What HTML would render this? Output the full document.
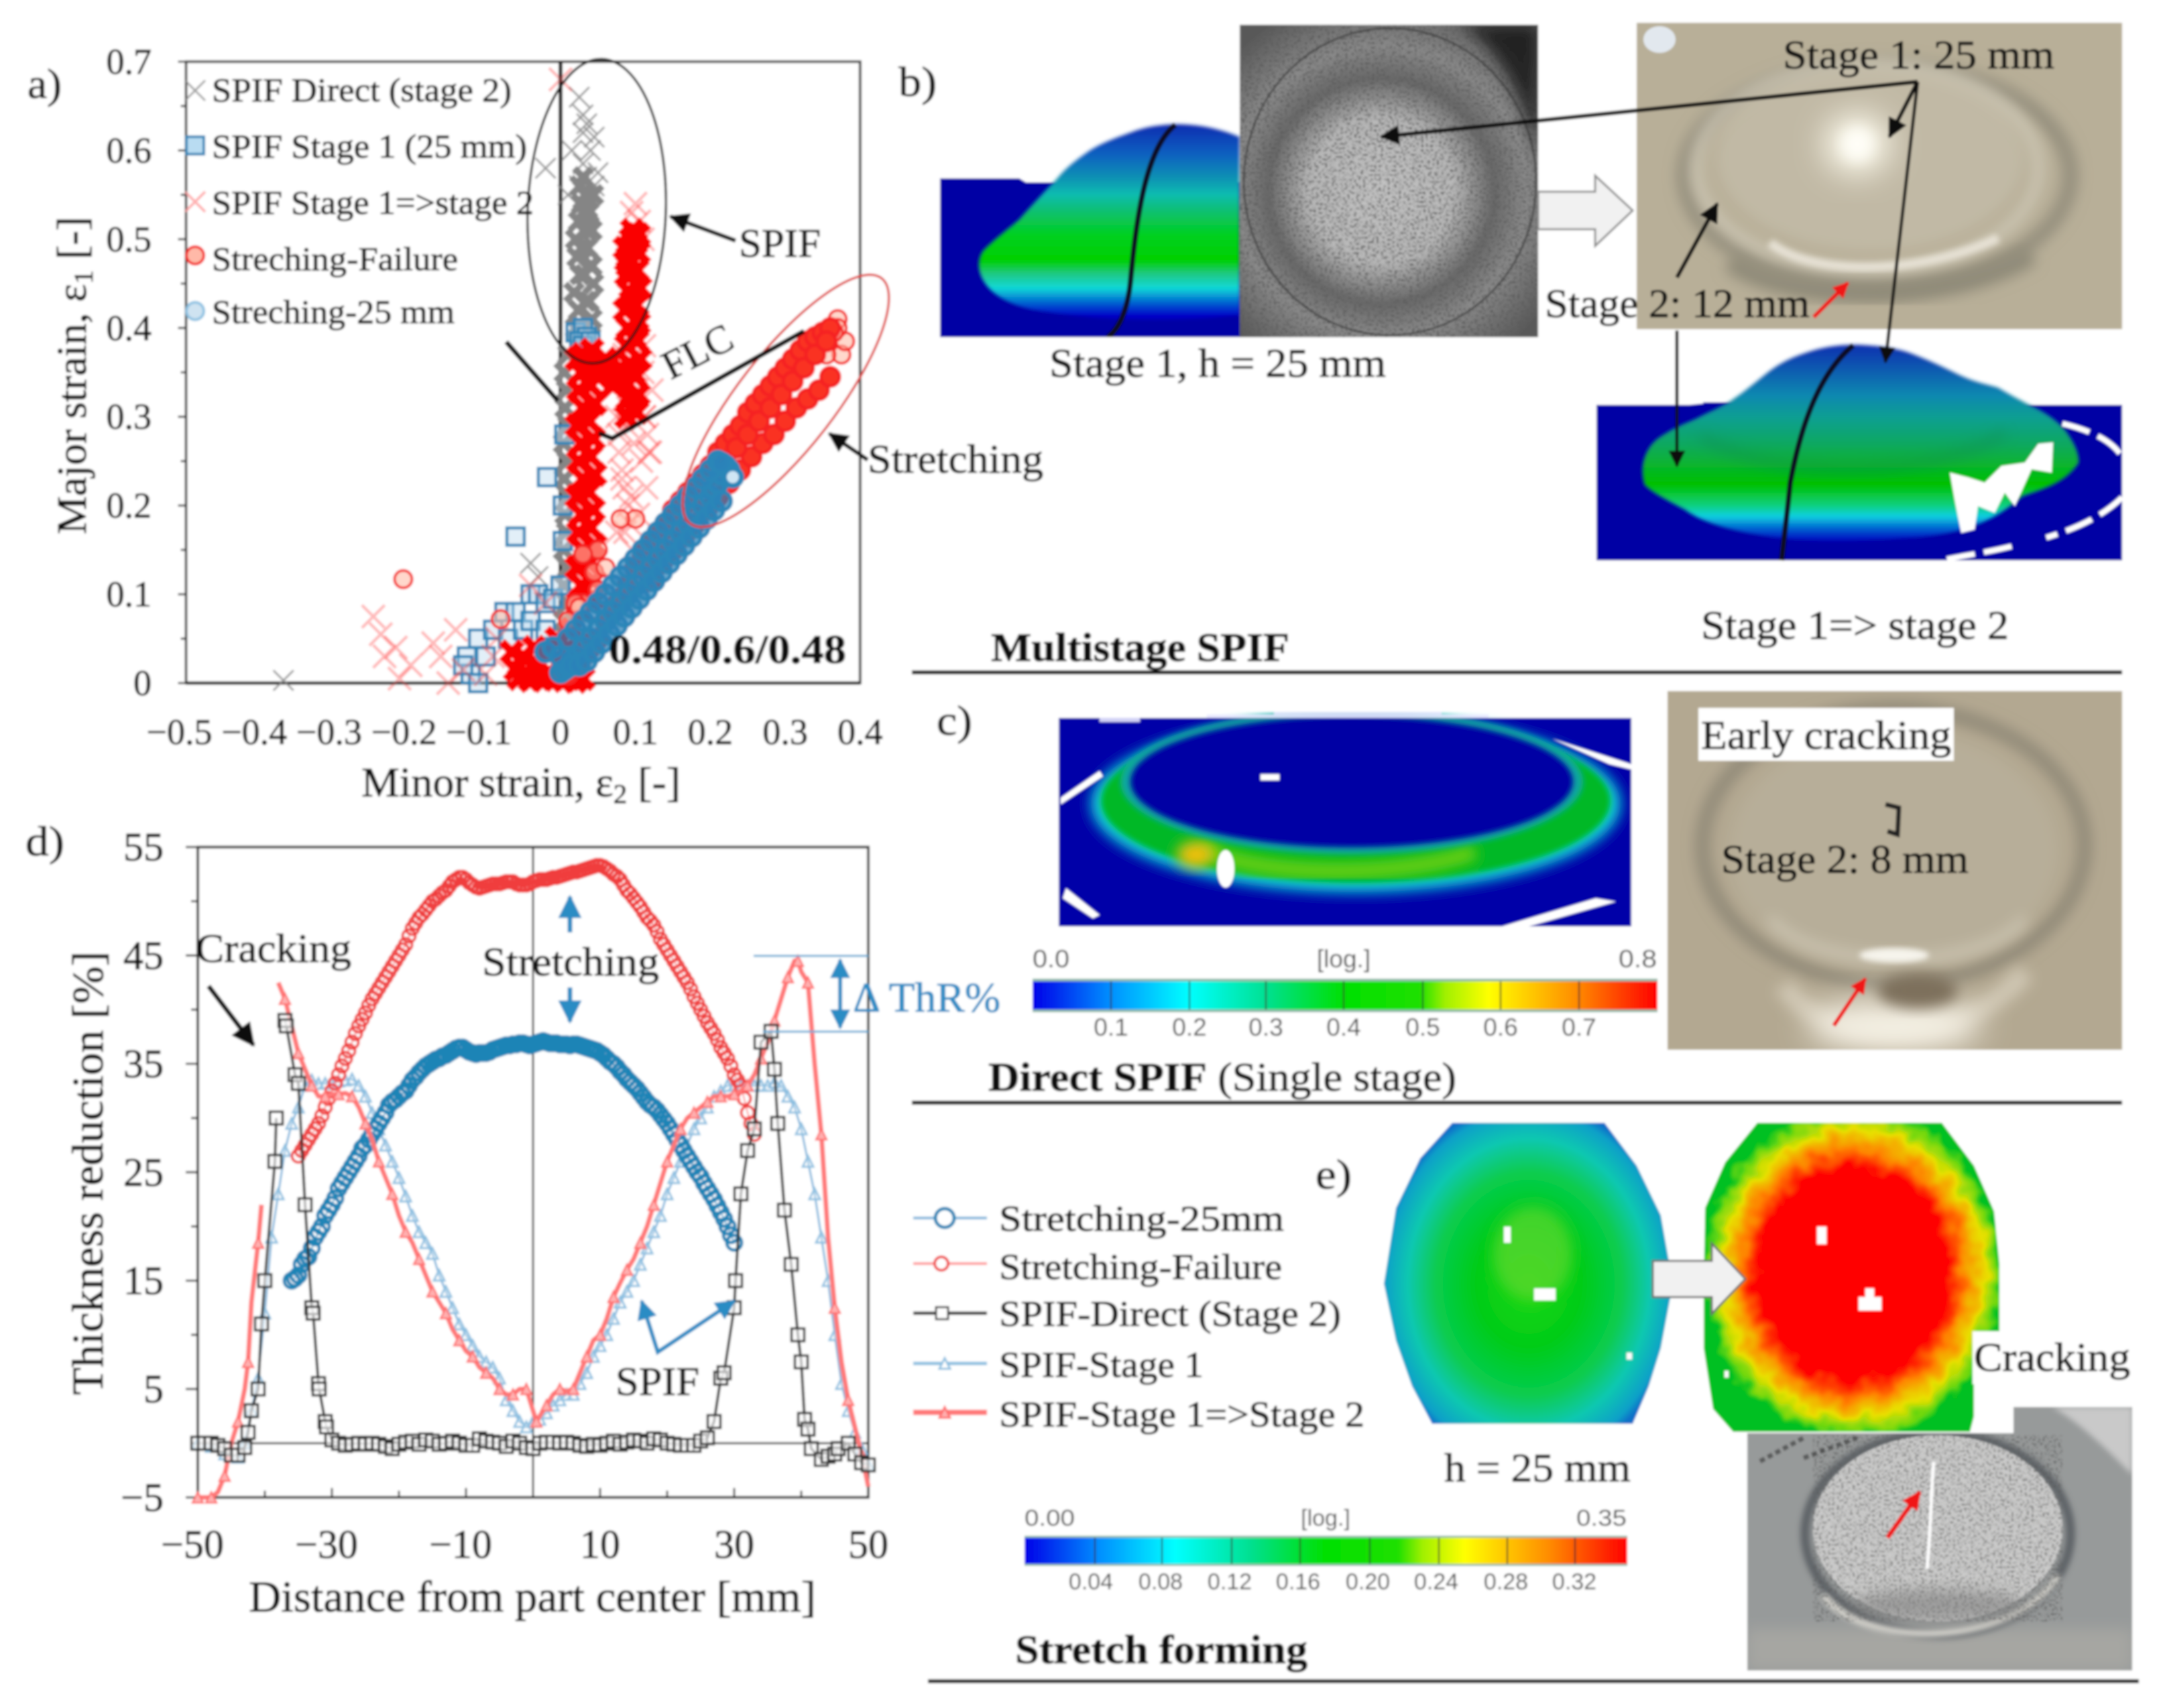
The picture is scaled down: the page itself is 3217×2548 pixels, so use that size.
<!DOCTYPE html>
<html lang="en">
<head>
<meta charset="utf-8">
<title>SPIF and stretch forming strain comparison</title>
<style>
html,body{margin:0;padding:0;background:#fff}
svg{display:block}
text{font-family:"Liberation Serif",serif;fill:#111;stroke:#111;stroke-width:.9px}
text.sans{font-family:"Liberation Sans",sans-serif;fill:#444;stroke:none}
</style>
</head>
<body>
<svg id="fig" xmlns="http://www.w3.org/2000/svg" width="3217" height="2548" viewBox="0 0 3217 2548">
<defs>
<filter id="soft" filterUnits="userSpaceOnUse" x="0" y="0" width="3217" height="2548"><feGaussianBlur stdDeviation="1.5"/></filter>
<filter id="b2" x="-10%" y="-10%" width="120%" height="120%"><feGaussianBlur stdDeviation="2"/></filter>
<filter id="b4" x="-20%" y="-20%" width="140%" height="140%"><feGaussianBlur stdDeviation="4"/></filter>
<filter id="b10" x="-30%" y="-30%" width="160%" height="160%"><feGaussianBlur stdDeviation="10"/></filter>
<filter id="b24" x="-50%" y="-50%" width="200%" height="200%"><feGaussianBlur stdDeviation="24"/></filter>
<filter id="speck" x="0" y="0" width="100%" height="100%"><feTurbulence type="fractalNoise" baseFrequency="0.3" numOctaves="2" seed="4"/><feColorMatrix type="matrix" values="0 0 0 0 0.1  0 0 0 0 0.1  0 0 0 0 0.1  0 0 9 0 -4.9"/></filter>
<filter id="jag" x="-5%" y="-5%" width="110%" height="110%"><feTurbulence type="fractalNoise" baseFrequency="0.035" numOctaves="2" seed="7" result="n"/><feDisplacementMap in="SourceGraphic" in2="n" scale="34" xChannelSelector="R" yChannelSelector="G"/></filter>
<linearGradient id="domeA" gradientUnits="userSpaceOnUse" x1="0" y1="185" x2="0" y2="503">
<stop offset="0" stop-color="#0a2cb0"/><stop offset=".14" stop-color="#1060c0"/><stop offset=".25" stop-color="#1090b4"/><stop offset=".33" stop-color="#10bcb0"/><stop offset=".41" stop-color="#10c070"/><stop offset=".52" stop-color="#00d020"/><stop offset=".64" stop-color="#00d000"/><stop offset=".70" stop-color="#20c880"/><stop offset=".77" stop-color="#10d8d8"/><stop offset=".84" stop-color="#0060d0"/><stop offset=".9" stop-color="#0000c8"/><stop offset="1" stop-color="#0000a0"/>
</linearGradient>
<linearGradient id="domeB" gradientUnits="userSpaceOnUse" x1="0" y1="514" x2="0" y2="830">
<stop offset="0" stop-color="#1030b0"/><stop offset=".24" stop-color="#1088b0"/><stop offset=".35" stop-color="#10a090"/><stop offset=".47" stop-color="#10a860"/><stop offset=".66" stop-color="#00c000"/><stop offset=".76" stop-color="#10d080"/><stop offset=".81" stop-color="#10d0e0"/><stop offset=".87" stop-color="#0060d0"/><stop offset=".93" stop-color="#0000c0"/><stop offset="1" stop-color="#0000a4"/>
</linearGradient>
<radialGradient id="grayPhoto" gradientUnits="userSpaceOnUse" cx="2060" cy="285" r="300">
<stop offset="0" stop-color="#c4c4c4"/><stop offset=".36" stop-color="#b8b8b8"/><stop offset=".56" stop-color="#696969"/><stop offset=".72" stop-color="#8a8a8a"/><stop offset="1" stop-color="#585858"/>
</radialGradient>
<linearGradient id="barC" x1="0" x2="1" y1="0" y2="0">
<stop offset="0" stop-color="#0000e8"/><stop offset=".125" stop-color="#0090ff"/><stop offset=".25" stop-color="#00ffff"/><stop offset=".375" stop-color="#00e090"/><stop offset=".5" stop-color="#00e000"/><stop offset=".62" stop-color="#20e000"/><stop offset=".66" stop-color="#a0f000"/><stop offset=".73" stop-color="#ffff00"/><stop offset=".87" stop-color="#ff8c00"/><stop offset="1" stop-color="#ff0000"/>
</linearGradient>
<radialGradient id="leftE" gradientUnits="userSpaceOnUse" cx="0" cy="0" r="1" gradientTransform="translate(2280 1915) scale(225 270)">
<stop offset="0" stop-color="#20d810"/><stop offset=".35" stop-color="#00cc18"/><stop offset=".62" stop-color="#08cc50"/><stop offset=".8" stop-color="#10c8b0"/><stop offset=".95" stop-color="#10a0c8"/><stop offset="1" stop-color="#1070c8"/>
</radialGradient>
<radialGradient id="rightE" gradientUnits="userSpaceOnUse" cx="0" cy="0" r="1" gradientTransform="translate(2764 1900) scale(225 250)">
<stop offset="0" stop-color="#ff0000"/><stop offset=".62" stop-color="#ff0000"/><stop offset=".74" stop-color="#ff8000"/><stop offset=".86" stop-color="#e8e000"/><stop offset=".95" stop-color="#70d810"/><stop offset="1" stop-color="#00c020"/>
</radialGradient>
<clipPath id="clipGray"><rect x="1849" y="37" width="445" height="466"/></clipPath>
<clipPath id="clipBeigeB"><rect x="2441" y="34" width="724" height="457"/></clipPath>
<clipPath id="clipBeigeC"><rect x="2487" y="1031" width="678" height="535"/></clipPath>
<clipPath id="clipModelC"><rect x="1579" y="1062" width="854" height="320"/></clipPath>
<clipPath id="clipModelB"><rect x="2381" y="500" width="784" height="336"/></clipPath>
<clipPath id="clipModelA"><rect x="1402" y="170" width="447" height="333"/></clipPath>
<clipPath id="clipEL"><path d="M2166 1675H2393L2441 1739L2477 1813L2495 1915L2477 2011L2459 2068L2435 2124H2136L2106 2068L2082 2000L2064 1915L2082 1802L2118 1728Z"/></clipPath>
<clipPath id="clipER"><path d="M2621 1675H2896L2944 1739L2974 1807L2982 1886L2982 1983L2980 2068L2944 2113L2938 2136H2585L2555 2102L2541 2011L2541 1915L2543 1802L2573 1734Z"/></clipPath>
<clipPath id="clipEP"><path d="M2606 2138H3003V2099H3180V2492H2606Z"/></clipPath>
<marker id="ah" viewBox="0 0 10 10" refX="9" refY="5" markerWidth="5" markerHeight="5" orient="auto-start-reverse"><path d="M0 0L10 5L0 10Z" fill="#111"/></marker>
<marker id="ahb" viewBox="0 0 10 10" refX="9" refY="5" markerWidth="5" markerHeight="5" orient="auto-start-reverse"><path d="M0 0L10 5L0 10Z" fill="#2a8cc4"/></marker>
<marker id="ahr" viewBox="0 0 10 10" refX="9" refY="5" markerWidth="4" markerHeight="4" orient="auto-start-reverse"><path d="M0 0L10 5L0 10Z" fill="#f01818"/></marker>
</defs>

<g id="root" filter="url(#soft)">
<rect width="3217" height="2548" fill="#fff"/>

<!-- panel b -->
<g>
<text x="1340" y="143" font-size="62" textLength="57" lengthAdjust="spacingAndGlyphs">b)</text>
<g clip-path="url(#clipModelA)">
<path d="M1402 266H1520L1530 272H1849V503H1402Z" fill="#0000a4"/>
<path d="M1849 204C1820 192 1790 185 1753 185C1725 186 1705 190 1687 197C1665 205 1645 212 1627 223C1605 238 1590 250 1579 263C1560 285 1540 305 1520 328C1500 345 1480 360 1466 375C1450 400 1465 445 1540 462C1640 480 1760 480 1849 470Z" fill="url(#domeA)" filter="url(#b2)"/>
<path d="M1753 186C1710 220 1695 320 1686 420C1682 460 1670 490 1652 503" fill="none" stroke="#0a1020" stroke-width="8"/>
</g>
<g clip-path="url(#clipGray)">
<rect x="1849" y="37" width="445" height="466" fill="url(#grayPhoto)"/>
<rect x="1849" y="37" width="445" height="466" filter="url(#speck)"/>
<path d="M2180 37H2294V230C2270 140 2235 70 2180 37Z" fill="#161616" opacity=".8" filter="url(#b10)"/>
<ellipse cx="2073" cy="271" rx="218" ry="229" fill="none" stroke="#2c2c2c" stroke-width="3" opacity=".6"/>
</g>
<path d="M2294 286H2379V262L2435 314L2379 367V342H2294Z" fill="#f1f1f1" stroke="#8a8a8a" stroke-width="3"/>
<g clip-path="url(#clipBeigeB)">
<rect x="2441" y="34" width="724" height="457" fill="#b8af98"/>
<ellipse cx="2800" cy="262" rx="288" ry="165" fill="none" stroke="#938d7b" stroke-width="22" filter="url(#b10)"/>
<ellipse cx="2790" cy="235" rx="230" ry="140" fill="#c1b9a5" filter="url(#b10)"/>
<ellipse cx="2785" cy="250" rx="255" ry="155" fill="none" stroke="#cfc9b8" stroke-width="14" filter="url(#b10)"/>
<path d="M2640 362C2700 412 2860 412 2980 355" fill="none" stroke="#e6e1d4" stroke-width="14" filter="url(#b4)"/>
<path d="M2580 390C2660 450 2900 460 3030 380" fill="none" stroke="#8f8a78" stroke-width="30" filter="url(#b10)"/>
<ellipse cx="2770" cy="215" rx="48" ry="44" fill="#fffdf0" filter="url(#b24)"/>
<ellipse cx="2770" cy="215" rx="22" ry="24" fill="#fffef8" filter="url(#b10)"/>
<ellipse cx="2475" cy="59" rx="24" ry="20" fill="#e2e8ee"/>
</g>
<g>
<path d="M2381 604H2520L2540 602V600H2950L3020 604H3165V836H2381Z" fill="#0000a4"/>
<g clip-path="url(#clipModelB)">
<path d="M2453 723C2447 703 2450 685 2459 670C2468 655 2480 650 2489 644C2510 632 2525 628 2537 621C2555 612 2572 605 2585 595C2600 585 2618 570 2633 558C2655 540 2675 532 2693 526C2715 518 2740 514 2764 514C2790 514 2825 518 2848 526C2875 536 2900 548 2920 558C2945 570 2960 572 2980 578C3000 590 3020 600 3040 611C3060 622 3068 630 3076 637C3090 655 3100 672 3100 690C3080 720 3050 728 3016 740C2960 790 2900 800 2836 803C2770 808 2700 808 2657 803C2590 795 2540 780 2513 760C2485 745 2465 735 2453 723Z" fill="url(#domeB)" filter="url(#b2)"/>
<path d="M2537 650C2620 715 2900 715 2990 645" fill="none" stroke="#0c8a50" stroke-width="12" opacity=".55" filter="url(#b10)"/>
<path d="M3076 632C3110 640 3150 655 3165 682M3165 742C3130 775 3090 790 3052 802M3000 815C2960 825 2920 830 2896 836" fill="none" stroke="#fff" stroke-width="8" stroke-dasharray="42 14"/>
<path d="M2908 705L2916 750L2925 795L2945 790L2950 755L2975 765L2990 735L3005 755L3030 700L3060 705L3062 660L3040 662L3020 690L2985 695L2960 720L2935 712Z" fill="#fff"/>
</g>
<path d="M2764 515C2710 560 2685 640 2670 720C2665 770 2660 810 2657 836" fill="none" stroke="#0a1020" stroke-width="8"/>
</g>
<g fill="none" stroke="#0d0d0d">
<line x1="2860" y1="122" x2="2060" y2="204" stroke-width="6" marker-end="url(#ah)"/>
<line x1="2860" y1="122" x2="2818" y2="204" stroke-width="6" marker-end="url(#ah)"/>
<line x1="2860" y1="122" x2="2812" y2="540" stroke-width="5" marker-end="url(#ah)"/>
<line x1="2501" y1="414" x2="2561" y2="304" stroke-width="6" marker-end="url(#ah)"/>
<line x1="2501" y1="493" x2="2501" y2="695" stroke-width="5" marker-end="url(#ah)"/>
</g>
<line x1="2705" y1="473" x2="2756" y2="422" stroke="#f01818" stroke-width="6" marker-end="url(#ahr)"/>
<text x="2659" y="102" font-size="60" textLength="405" lengthAdjust="spacingAndGlyphs">Stage 1: 25 mm</text>
<text x="2304" y="473" font-size="60" textLength="395" lengthAdjust="spacingAndGlyphs">Stage 2: 12 mm</text>
<text x="1565" y="562" font-size="60" textLength="502" lengthAdjust="spacingAndGlyphs">Stage 1, h = 25 mm</text>
<text x="2537" y="953" font-size="60" textLength="459" lengthAdjust="spacingAndGlyphs">Stage 1=&gt; stage 2</text>
<text x="1478" y="986" font-size="60" font-weight="bold" textLength="445" lengthAdjust="spacingAndGlyphs">Multistage SPIF</text>
<rect x="1360" y="1000" width="1805" height="6" fill="#111"/>
</g>

<!-- panel c -->
<g>
<text x="1397" y="1096" font-size="62" textLength="53" lengthAdjust="spacingAndGlyphs">c)</text>
<g clip-path="url(#clipModelC)">
<rect x="1579" y="1071" width="854" height="311" fill="#0000a8"/>
<ellipse cx="2022" cy="1199" rx="395" ry="132" fill="#10d8d8" filter="url(#b10)"/>
<ellipse cx="2022" cy="1195" rx="380" ry="122" fill="#00b828" filter="url(#b4)"/>
<path d="M1790 1262C1860 1310 2100 1310 2200 1270" fill="none" stroke="#70d010" stroke-width="24" filter="url(#b10)"/>
<ellipse cx="1783" cy="1275" rx="28" ry="20" fill="#f0c010" filter="url(#b10)"/>
<ellipse cx="2016" cy="1166" rx="345" ry="108" fill="#10a8a0" filter="url(#b4)"/>
<ellipse cx="2016" cy="1166" rx="330" ry="98" fill="#0000a4" filter="url(#b4)"/>
<ellipse cx="1828" cy="1296" rx="13" ry="28" fill="#fff"/>
<rect x="1880" y="1155" width="28" height="9" fill="#fff"/>
<path d="M1640 1071H1700V1077H1640ZM1745 1071H1800V1066H1900V1062H2150V1066H2220V1071Z" fill="#e8e8ff" opacity=".9"/>
<path d="M1582 1190L1640 1150L1645 1158L1582 1200Z" fill="#fff"/>
<path d="M2315 1102L2433 1140V1148L2400 1140Z" fill="#fff"/>
<path d="M1590 1325L1640 1365L1630 1370L1585 1340Z" fill="#fff"/>
<path d="M2240 1382L2380 1340L2410 1345L2280 1382Z" fill="#fff"/>
</g>
<g>
<rect x="1540" y="1460" width="932" height="50" fill="#8fb9a8"/>
<rect x="1540" y="1464" width="932" height="42" fill="url(#barC)"/>
<path d="M1657 1464V1506M1774 1464V1506M1888 1464V1506M2004 1464V1506M2122 1464V1506M2238 1464V1506M2355 1464V1506" stroke="#222" stroke-width="2"/>
<text class="sans" x="1540" y="1443" font-size="37" textLength="55" lengthAdjust="spacingAndGlyphs">0.0</text>
<text class="sans" x="2004" y="1443" font-size="37" text-anchor="middle">[log.]</text>
<text class="sans" x="2414" y="1443" font-size="37" textLength="57" lengthAdjust="spacingAndGlyphs">0.8</text>
<g font-size="37" text-anchor="middle">
<text class="sans" x="1657" y="1545">0.1</text><text class="sans" x="1774" y="1545">0.2</text><text class="sans" x="1888" y="1545">0.3</text><text class="sans" x="2004" y="1545">0.4</text><text class="sans" x="2122" y="1545">0.5</text><text class="sans" x="2238" y="1545">0.6</text><text class="sans" x="2355" y="1545">0.7</text>
</g>
</g>
<g clip-path="url(#clipBeigeC)">
<rect x="2487" y="1031" width="678" height="535" fill="#b3a891"/>
<ellipse cx="2824" cy="1262" rx="285" ry="205" fill="none" stroke="#8e8776" stroke-width="20" filter="url(#b10)"/>
<ellipse cx="2824" cy="1270" rx="245" ry="180" fill="#b7ae99" filter="url(#b10)"/>
<path d="M2640 1370C2700 1450 2960 1450 3020 1370" fill="none" stroke="#cfc8b6" stroke-width="12" filter="url(#b10)"/>
<path d="M2660 1470C2720 1565 2930 1565 3020 1450" fill="none" stroke="#cfc6b2" stroke-width="30" filter="url(#b10)"/>
<ellipse cx="2826" cy="1530" rx="130" ry="38" fill="#f6f2e6" filter="url(#b24)"/>
<ellipse cx="2860" cy="1478" rx="60" ry="26" fill="#7d705c" filter="url(#b10)"/>
<ellipse cx="2825" cy="1425" rx="52" ry="11" fill="#f6f4ec" filter="url(#b4)"/>
<path d="M2780 1445H2880" stroke="#6a6254" stroke-width="5" filter="url(#b4)"/>
<path d="M2812 1200L2832 1205L2830 1245L2815 1240" fill="none" stroke="#222" stroke-width="7"/>
</g>
<rect x="2533" y="1056" width="381" height="79" fill="#fff"/>
<text x="2537" y="1117" font-size="60" textLength="373" lengthAdjust="spacingAndGlyphs">Early cracking</text>
<text x="2567" y="1302" font-size="60" textLength="369" lengthAdjust="spacingAndGlyphs">Stage 2: 8 mm</text>
<line x1="2735" y1="1530" x2="2782" y2="1460" stroke="#f01818" stroke-width="6" marker-end="url(#ahr)"/>
<text x="1474" y="1627" font-size="60" textLength="698" lengthAdjust="spacingAndGlyphs"><tspan font-weight="bold">Direct SPIF</tspan> (Single stage)</text>
<rect x="1360" y="1642" width="1805" height="6" fill="#111"/>
</g>

<!-- panel e -->
<g>
<text x="1962" y="1773" font-size="62" textLength="54" lengthAdjust="spacingAndGlyphs">e)</text>
<g clip-path="url(#clipEL)">
<rect x="2050" y="1670" width="460" height="460" fill="url(#leftE)"/>
<ellipse cx="2286" cy="1870" rx="60" ry="70" fill="#60d830" opacity=".7" filter="url(#b10)"/>
<rect x="2243" y="1830" width="10" height="24" fill="#fff"/>
<rect x="2288" y="1922" width="32" height="18" fill="#fff"/>
<rect x="2426" y="2018" width="8" height="10" fill="#fff"/>
</g>
<g clip-path="url(#clipER)">
<rect x="2500" y="1640" width="520" height="530" fill="url(#rightE)" filter="url(#jag)"/>
<rect x="2710" y="1830" width="14" height="26" fill="#fff"/>
<path d="M2772 1955V1935H2782V1922H2795V1935H2806V1955Z" fill="#fff"/>
<rect x="2572" y="2045" width="6" height="10" fill="#fff"/>
</g>
<path d="M2465 1881H2553V1855L2603 1908L2553 1960V1935H2465Z" fill="#f1f1f1" stroke="#6a6a6a" stroke-width="3"/>
<rect x="2942" y="1986" width="241" height="79" fill="#fff"/>
<text x="2944" y="2045" font-size="60" textLength="233" lengthAdjust="spacingAndGlyphs">Cracking</text>
<rect x="2944" y="2065" width="62" height="75" fill="#fff"/>
<g clip-path="url(#clipEP)">
<rect x="2606" y="2099" width="574" height="393" fill="#979a9a"/>
<path d="M3060 2099H3180V2200C3140 2160 3100 2120 3060 2099Z" fill="#c9c9c9" filter="url(#b4)"/>
<rect x="2606" y="2430" width="574" height="62" fill="#a6a6a2" filter="url(#b10)"/>
<ellipse cx="2890" cy="2288" rx="198" ry="150" fill="none" stroke="#5f6468" stroke-width="14" filter="url(#b4)"/>
<path d="M2720 2380C2780 2460 3000 2460 3070 2350" fill="none" stroke="#dedcd4" stroke-width="10" filter="url(#b4)"/>
<ellipse cx="2890" cy="2280" rx="186" ry="139" fill="#cbcbca"/>
<ellipse cx="2890" cy="2280" rx="186" ry="139" filter="url(#speck)" opacity=".7"/>
<ellipse cx="2890" cy="2395" rx="130" ry="24" fill="#7a7a7a" opacity=".55" filter="url(#b10)"/>
<path d="M2884 2181C2880 2220 2880 2280 2874 2340" fill="none" stroke="#fff" stroke-width="5"/>
<path d="M2625 2180L2690 2145M2690 2175L2770 2145" stroke="#333" stroke-width="7" stroke-dasharray="8 5" opacity=".6"/>
</g>
<line x1="2815" y1="2294" x2="2863" y2="2226" stroke="#f01818" stroke-width="7" marker-end="url(#ahr)"/>
<text x="2154" y="2210" font-size="60" textLength="278" lengthAdjust="spacingAndGlyphs">h = 25 mm</text>
<g>
<rect x="1528" y="2291" width="899" height="45" fill="#8fb9a8"/>
<rect x="1528" y="2294" width="899" height="39" fill="url(#barC)"/>
<path d="M1633 2294V2333M1733 2294V2333M1837 2294V2333M1939 2294V2333M2043 2294V2333M2146 2294V2333M2248 2294V2333M2349 2294V2333" stroke="#222" stroke-width="2"/>
<text class="sans" x="1528" y="2276" font-size="34" textLength="75" lengthAdjust="spacingAndGlyphs">0.00</text>
<text class="sans" x="1977" y="2276" font-size="34" text-anchor="middle">[log.]</text>
<text class="sans" x="2351" y="2276" font-size="34" textLength="75" lengthAdjust="spacingAndGlyphs">0.35</text>
<g font-size="34" text-anchor="middle">
<text class="sans" x="1627" y="2371">0.04</text><text class="sans" x="1731" y="2371">0.08</text><text class="sans" x="1834" y="2371">0.12</text><text class="sans" x="1936" y="2371">0.16</text><text class="sans" x="2040" y="2371">0.20</text><text class="sans" x="2142" y="2371">0.24</text><text class="sans" x="2246" y="2371">0.28</text><text class="sans" x="2348" y="2371">0.32</text>
</g>
</g>
<text x="1514" y="2481" font-size="60" font-weight="bold" textLength="436" lengthAdjust="spacingAndGlyphs">Stretch forming</text>
<rect x="1384" y="2505" width="1806" height="6" fill="#222"/>
</g>

<!-- chart a and chart d are drawn by the script -->
<g id="chartA"></g>
<g id="chartD"></g>

<!-- static annotations for chart a -->
<g>
<text x="41" y="146" font-size="62" textLength="51" lengthAdjust="spacingAndGlyphs">a)</text>
<text x="539" y="1188" font-size="62" textLength="476" lengthAdjust="spacingAndGlyphs">Minor strain, ε<tspan font-size="40" dy="10">2</tspan><tspan dy="-10"> [-]</tspan></text>
<text transform="translate(128 797) rotate(-90)" font-size="62" textLength="474" lengthAdjust="spacingAndGlyphs">Major strain, ε<tspan font-size="40" dy="10">1</tspan><tspan dy="-10"> [-]</tspan></text>
<ellipse cx="890" cy="315" rx="103" ry="227" fill="none" stroke="#111" stroke-width="3.5" transform="rotate(2 890 315)"/>
<ellipse cx="1172" cy="598" rx="232" ry="72" fill="none" stroke="#e0403c" stroke-width="3.5" transform="rotate(-52 1172 598)"/>
<path d="M755 510L832 598M893 646L913 654L1199 494" fill="none" stroke="#0c0c0c" stroke-width="7"/>
<text transform="translate(1041 526) rotate(-27)" font-size="60" text-anchor="middle" y="18">FLC</text>
<line x1="1097" y1="359" x2="1000" y2="323" stroke="#111" stroke-width="6" marker-end="url(#ah)"/>
<line x1="1294" y1="686" x2="1237" y2="647" stroke="#111" stroke-width="6" marker-end="url(#ah)"/>
<text x="1102" y="383" font-size="60" textLength="122" lengthAdjust="spacingAndGlyphs">SPIF</text>
<text x="1294" y="705" font-size="60" textLength="262" lengthAdjust="spacingAndGlyphs">Stretching</text>
<text x="908" y="989" font-size="60" font-weight="bold" textLength="354" lengthAdjust="spacingAndGlyphs">0.48/0.6/0.48</text>
<text x="316" y="151" font-size="50" textLength="447" lengthAdjust="spacingAndGlyphs">SPIF Direct (stage 2)</text>
<text x="316" y="235" font-size="50" textLength="470" lengthAdjust="spacingAndGlyphs">SPIF Stage 1 (25 mm)</text>
<text x="316" y="319" font-size="50" textLength="480" lengthAdjust="spacingAndGlyphs">SPIF Stage 1=&gt;stage 2</text>
<text x="316" y="403" font-size="50" textLength="367" lengthAdjust="spacingAndGlyphs">Streching-Failure</text>
<text x="316" y="482" font-size="50" textLength="362" lengthAdjust="spacingAndGlyphs">Streching-25 mm</text>
</g>

<!-- static annotations for chart d -->
<g>
<text x="38" y="1276" font-size="62" textLength="58" lengthAdjust="spacingAndGlyphs">d)</text>
<text x="371" y="2404" font-size="66" textLength="846" lengthAdjust="spacingAndGlyphs">Distance from part center [mm]</text>
<text transform="translate(153 2081) rotate(-90)" font-size="66" textLength="662" lengthAdjust="spacingAndGlyphs">Thickness reduction [%]</text>
<text x="292" y="1435" font-size="60" textLength="232" lengthAdjust="spacingAndGlyphs">Cracking</text>
<line x1="311" y1="1471" x2="378" y2="1559" stroke="#111" stroke-width="7" marker-end="url(#ah)"/>
<text x="719" y="1455" font-size="60" textLength="264" lengthAdjust="spacingAndGlyphs">Stretching</text>
<line x1="850" y1="1391" x2="850" y2="1338" stroke="#2a8cc4" stroke-width="7" marker-end="url(#ahb)"/>
<line x1="850" y1="1473" x2="850" y2="1524" stroke="#2a8cc4" stroke-width="7" marker-end="url(#ahb)"/>
<path d="M1124 1426H1295M1138 1539H1295" stroke="#5fa9d4" stroke-width="3" fill="none"/>
<line x1="1253" y1="1432" x2="1253" y2="1533" stroke="#2a8cc4" stroke-width="6" marker-start="url(#ahb)" marker-end="url(#ahb)"/>
<text x="1272" y="1509" font-size="62" textLength="220" lengthAdjust="spacingAndGlyphs" style="fill:#2a8cc4;stroke:#2a8cc4">Δ ThR%</text>
<text x="918" y="2081" font-size="60" textLength="125" lengthAdjust="spacingAndGlyphs">SPIF</text>
<path d="M957 1941L981 2017L1095 1941" fill="none" stroke="#2a8cc4" stroke-width="6" marker-start="url(#ahb)" marker-end="url(#ahb)"/>
<text x="1490" y="1836" font-size="54" textLength="425" lengthAdjust="spacingAndGlyphs">Stretching-25mm</text>
<text x="1490" y="1908" font-size="54" textLength="422" lengthAdjust="spacingAndGlyphs">Stretching-Failure</text>
<text x="1490" y="1978" font-size="54" textLength="510" lengthAdjust="spacingAndGlyphs">SPIF-Direct (Stage 2)</text>
<text x="1490" y="2054" font-size="54" textLength="305" lengthAdjust="spacingAndGlyphs">SPIF-Stage 1</text>
<text x="1490" y="2128" font-size="54" textLength="545" lengthAdjust="spacingAndGlyphs">SPIF-Stage 1=&gt;Stage 2</text>
</g>
</g>
</svg>

<script>
// ---------- Chart a data (minor strain / major strain) ----------
const aXTicks = [-0.5,-0.4,-0.3,-0.2,-0.1,0,0.1,0.2,0.3,0.4];
const aXTickLabels = ['\u22120.5','\u22120.4','\u22120.3','\u22120.2','\u22120.1','0','0.1','0.2','0.3','0.4'];
const aYTicks = [0,0.1,0.2,0.3,0.4,0.5,0.6,0.7];
const aYTickLabels = ['0','0.1','0.2','0.3','0.4','0.5','0.6','0.7'];

const grayDenseX = [.004,.009,.005,.01,.004,.008,.006,.011,.005,.009,.004,.01,.006,.008,.005,.01,.022,.04,.02,.042,.024,.038,.018,.044,.026,.04,.022,.036,.02,.042,.024,.038,.028,.044,.026,.036,.03,.042,.03,.034,.032,.028,.035,.03,.033];
const grayDenseY = [.07,.09,.11,.13,.15,.17,.19,.21,.23,.25,.27,.29,.31,.33,.35,.37,.38,.39,.40,.41,.42,.43,.44,.45,.46,.47,.48,.49,.50,.51,.52,.53,.54,.55,.56,.52,.57,.47,.40,.43,.46,.49,.51,.53,.55];
const graySparseX = [.025,.03,.035,.03,.045,.015,-.02,.03,.05,.045,.01,.035,.04,.025,-.37,-.04,-.03];
const graySparseY = [.66,.64,.63,.62,.615,.6,.58,.585,.575,.56,.55,.57,.6,.56,.003,.135,.12];

const squareX = [.02,.03,.035,.025,.03,.04,-.018,-.06,-.04,-.03,-.075,-.06,-.11,-.125,-.12,-.11,-.1,-.09,-.07,-.05,-.04,-.02,-.01,-.13,-.02,0,.003,.005,.003];
const squareY = [.395,.4,.39,.385,.38,.385,.232,.165,.1,.1,.08,.08,.05,.03,.01,0,.03,.06,.05,.06,.07,.09,.095,.02,.06,.11,.2,.28,.16];

const redDenseX = [.024,.04,.028,.044,.022,.038,.03,.046,.024,.04,.028,.044,.022,.038,.03,.046,.024,.04,.028,.044,.022,.038,.03,.046,.024,.04,.028,.044,.022,.038,.03,.042,.056,.064,.072,.08,.06,.07,.082,.05,.088,.102,.09,.104,.086,.1,.092,.106,.088,.102,.09,.104,.086,.1,.092,.106,.088,.102,.09,.104,.086,.1,.094,.104,.09,.1,.094,.102,.096,-.06,-.045,-.03,-.015,0,.015,.03,-.065,-.05,-.035,-.02,-.005,.01,.025,-.055,-.04,-.025,-.01,.005,.02,.03,.015,.03,.095,.097,.098,.096,.094,.097];
const redDenseY = [.09,.095,.11,.115,.13,.135,.15,.155,.17,.175,.19,.195,.21,.215,.23,.235,.25,.255,.27,.275,.29,.295,.31,.315,.33,.335,.35,.355,.365,.36,.37,.375,.35,.36,.345,.355,.365,.335,.34,.345,.3,.305,.32,.325,.34,.345,.36,.365,.38,.385,.4,.405,.42,.425,.44,.445,.46,.465,.48,.485,.49,.495,.5,.505,.47,.45,.43,.41,.51,.015,.01,.02,.012,.025,.015,.005,.035,.03,.04,.035,.05,.04,.02,.005,.003,.004,.005,.003,.002,.045,.06,.08,.31,.35,.39,.43,.46,.49];
const redHaloX = [.09,.115,.082,.12,.078,.112,.085,.118,.08,.11,.092,.122,.085,.112,.1,.105,.095,.11,.075,.088,.098,.108,.082,.094,.104,.116,.078,.09,.102,.112,.086,.096,-.25,-.24,-.235,-.22,-.2,-.215,-.17,-.16,-.15,-.13,-.14,-.04,-.02,-.09,-.1,-.085,0,.075,.085];
const redHaloY = [.2,.22,.24,.26,.28,.3,.32,.26,.34,.35,.18,.33,.37,.38,.54,.52,.53,.5,.3,.29,.27,.25,.23,.21,.19,.28,.26,.31,.33,.3,.17,.15,.075,.055,.03,.04,.02,.005,.045,.03,0,.015,.06,.11,.09,.03,.01,.05,.68,.17,.22];

const failureCoreX = [.1,.11,.12,.13,.14,.15,.16,.17,.18,.19,.2,.21,.22,.23,.24,.25,.26,.27,.28,.29,.3,.31,.32,.33,.34,.35,.36,.12,.135,.15,.165,.18,.195,.21,.225,.24,.255,.27,.285,.3,.315,.33,.345,.36,.06,.07,.08,.09,.05,.04,.03,.02,.01,.115,.13,.145,.16,.175,.19,.205,.22,.235,.25,.265,.28,.295,.31,.325,.34,.355];
const failureCoreY = [.13,.145,.16,.17,.18,.195,.205,.215,.225,.235,.245,.26,.27,.28,.29,.305,.315,.325,.335,.345,.355,.365,.375,.385,.39,.395,.4,.115,.135,.15,.165,.18,.195,.21,.225,.24,.255,.27,.28,.295,.31,.32,.33,.345,.07,.085,.095,.11,.05,.04,.03,.02,.01,.14,.16,.175,.19,.205,.225,.235,.25,.265,.28,.295,.31,.325,.34,.355,.37,.385];
const failureSparseX = [.37,.375,.38,.37,.355,-.21,-.08,.1,.08,.05,.03,.045,.06,.05,.03,.02,.01,.02,.025,.365];
const failureSparseY = [.41,.37,.385,.4,.37,.117,.072,.185,.185,.15,.145,.125,.13,.105,.09,.085,.07,.09,.085,.395];

const stretchX = [0,.005,.01,.015,.02,.03,.04,.05,.06,.07,.08,.09,.1,.11,.12,.13,.14,.15,.16,.17,.18,.19,.2,.205,.21,.215,.22,.225,.23,.01,.02,.03,.04,.05,.06,.07,.08,.09,.1,.11,.12,.13,.14,.15,.16,.17,.18,.19,.2,.21,.215,-.02,-.01,.0,.015,.025,.035,.045,.055,.065,.075,.085,.095,.105,.115,.125,.135,.145,.155,.165,.175,.185,.195,.205,.215];
const stretchY = [.012,.015,.018,.025,.03,.04,.05,.06,.07,.08,.09,.1,.11,.12,.13,.14,.15,.16,.17,.18,.19,.2,.21,.22,.225,.235,.245,.24,.232,.05,.06,.07,.08,.09,.1,.11,.12,.13,.14,.15,.16,.17,.18,.19,.2,.21,.22,.23,.24,.25,.248,.035,.04,.03,.02,.02,.025,.035,.045,.055,.065,.075,.085,.095,.105,.115,.125,.135,.145,.155,.165,.175,.185,.195,.205];

// ---------- Chart d data (distance from centre / thickness reduction) ----------
const dXTicks = [-50,-30,-10,10,30,50];
const dXTickLabels = ['\u221250','\u221230','\u221210','10','30','50'];
const dYTicks = [-5,5,15,25,35,45,55];
const dYTickLabels = ['\u22125','5','15','25','35','45','55'];

const s25X = [-36,-35,-34,-33,-32,-31,-30,-29,-28,-27,-26,-25,-24,-23,-22,-21,-20,-19,-18,-17,-16,-15,-14,-13,-12,-11,-10,-9,-8,-7,-6,-5,-4,-3,-2,-1,0,1,2,3,4,5,6,7,8,9,10,11,12,13,14,15,16,17,18,19,20,21,22,23,24,25,26,27,28,29,30];
const s25Y = [15,15.5,17,18,19.5,21,22,23.5,24.5,25.5,26.5,27.5,28.5,29.5,30.5,31.5,32,32.5,33.5,34.2,34.8,35.2,35.5,35.8,36.2,36.5,36.3,36,36,36,36.3,36.5,36.7,36.8,36.9,36.8,36.8,37,37,36.9,36.8,36.8,36.8,36.7,36.5,36.3,36,35.5,35,34.3,33.6,33,32.3,31.5,31,30.3,29.5,28.5,27.5,26.5,25.5,24.6,23.5,22.5,21.3,20,18.5];
const s25BX = [-35.5,-34.5,-33.5,-32.5,-31.5,-30.5,-29.5,-28.5,-27.5,-26.5,-25.5,-24.5,-23.5,-22.5,-21.5,-20.5,-19.5,-18.5,-17.5,-16.5,-15.5,-14.5,-13.5,-12.5,-11.5,-10.5,-9.5,-8.5,-7.5,-6.5,-5.5,-4.5,-3.5,-2.5,-1.5,-0.5,0.5,1.5,2.5,3.5,4.5,5.5,6.5,7.5,8.5,9.5,10.5,11.5,12.5,13.5,14.5,15.5,16.5,17.5,18.5,19.5,20.5,21.5,22.5,23.5,24.5,25.5,26.5,27.5,28.5,29.5];
const s25BY = [15.2,16.5,17.2,19,20,21.5,22.6,24,25,26,27.2,28,29,30,31.2,31.7,32.3,33,33.8,34.5,35,35.4,35.7,36,36.4,36.5,36.1,35.9,36,36.1,36.4,36.6,36.7,36.8,36.9,36.7,36.9,37.1,36.9,36.9,36.8,36.7,36.8,36.6,36.4,36.2,35.8,35.2,34.7,34,33.3,32.7,31.9,31.2,30.7,29.9,29,28,27,26,25,24,23,21.9,20.7,19.2];
const sFailX = [-35,-34,-33,-32,-31,-30,-29,-28,-27,-26,-25,-24,-23,-22,-21,-20,-19,-18,-17,-16,-15,-14,-13,-12,-11,-10,-9,-8,-7,-6,-5,-4,-3,-2,-1,0,1,2,3,4,5,6,7,8,9,10,11,12,13,14,15,16,17,18,19,20,21,22,23,24,25,26,27,28,29,30,31,32,33];
const sFailY = [26.5,27.5,28.5,29.5,31,32.5,34,35.5,37,38.5,39.7,41,42,43,44,45,46,47.5,48.5,49.2,50,50.5,51,51.8,52.2,52,51.5,51.2,51.4,51.6,51.6,51.8,51.8,51.5,51.5,51.8,52,52,52.2,52.3,52.5,52.7,52.8,53,53.2,53.3,53,52.5,52,51,50.3,49.5,48.5,47.8,46.5,45.5,44.5,43.5,42.5,41.2,40,38.8,37.8,36.5,35.5,34,33,30.5,28.5];
const sFailBX = [-34.5,-33.5,-32.5,-31.5,-30.5,-29.5,-28.5,-27.5,-26.5,-25.5,-24.5,-23.5,-22.5,-21.5,-20.5,-19.5,-18.5,-17.5,-16.5,-15.5,-14.5,-13.5,-12.5,-11.5,-10.5,-9.5,-8.5,-7.5,-6.5,-5.5,-4.5,-3.5,-2.5,-1.5,-0.5,0.5,1.5,2.5,3.5,4.5,5.5,6.5,7.5,8.5,9.5,10.5,11.5,12.5,13.5,14.5,15.5,16.5,17.5,18.5,19.5,20.5,21.5,22.5,23.5,24.5,25.5,26.5,27.5,28.5,29.5,30.5,31.5,32.5];
const sFailBY = [27,28,29,30.2,31.8,33.2,34.8,36.2,37.8,39.1,40.4,41.5,42.5,43.5,44.5,45.5,46.8,48,48.8,49.6,50.2,50.8,51.4,52,52.2,51.7,51.3,51.3,51.5,51.6,51.7,51.8,51.6,51.5,51.6,51.9,52,52.1,52.2,52.4,52.6,52.7,52.9,53.1,53.3,53.2,52.8,52.3,51.5,50.7,49.9,49,48.2,47.2,46,45,44,43,41.9,40.6,39.4,38.3,37.2,36,34.8,33.5,31.8,29.5];
const directX = [-50,-49,-48,-47,-46,-45,-44,-43,-42.5,-42,-41,-40.5,-40,-38.5,-38.3,null,-37,-36.8,-35.5,-35,-34,-33,-32.8,-32,-31.9,-31,-30.8,-30,-29,-28,-27,-26,-25,-24,-23,-22,-21,-20,-19,-18,-17,-16,-15,-14,-13,-12,-11,-10,-9,-8,-7,-6,-5,-4,-3,-2,-1,0,1,2,3,4,5,6,7,8,9,10,11,12,13,14,15,16,17,18,19,20,21,22,23,24,25,26,27,28,28.5,30,30.2,31,32,33,34,35.5,36,36.5,37.5,38.5,39.5,40,40.5,41,41.5,43,44,45,45.5,47,48,49,50];
const directY = [0,0,0,-0.2,-0.5,-1.1,-1.1,-0.4,1,3,5,11,15,26,30,null,39,38.5,34,33.2,22,12.5,12,5.5,5,2,1.5,0.3,0,-0.2,-0.1,0,-0.1,0,-0.1,-0.3,-0.5,-0.1,0.1,0.2,-0.1,0.3,0.2,-0.1,0,0.2,0,-0.2,-0.2,0.4,0.2,0.1,0,-0.3,0.2,0,-0.4,-0.5,0,0.1,0.1,0,0.1,0,-0.2,-0.3,-0.1,-0.2,0,0.2,-0.1,0.1,0.3,0.2,0,0.4,0.3,0,-0.1,-0.2,-0.2,-0.2,0.2,0.5,2,6,6.5,12.5,15,23,27,29,37,38,34.5,29.5,21.5,16.5,10,7.5,2.2,1.3,-0.5,-1.5,-1.2,-1,-0.5,0,-1,-1.8,-2];
const stage1X = [-50,-48,-46,-44,-43,-42,-41,-40,-39,-38,-37,-36,-35,-34,-33,-32,-31,-30,-29,-28,-27,-26,-25,-24,-23,-22,-21,-20,-19,-18,-17,-16,-15,-14,-13,-12,-11,-10,-9,-8,-7,-6,-5,-4,-3,-2,-1,0,1,2,3,4,5,6,7,8,9,10,11,12,13,14,15,16,17,18,19,20,21,22,23,24,25,26,27,28,29,30,31,32,33,34,35,36,37,38,39,40,41,42,43,44,45,46,47,48,49,50];
const stage1Y = [0,-0.3,-1,-1.3,0,3,6,12,19,23,27,29.5,31,33,33.5,33.2,33.2,33.2,33.4,33.5,33.6,33,32,30.5,29,27.5,26,24.5,22.8,21,19.5,18.5,17.5,15.5,14,12.5,11,10,9,8,7.5,7,6,4,3,2,1.5,2,2.2,2.8,3.5,4,4.5,4.5,5.5,6.5,8,9,10,11.5,13,14,15,16.5,18,19.5,21,23,24.5,26,27.5,29,30,31,32,32.5,33,33,33,33,33,33,33,33.3,33,32,31,29,26,23,19,15,10,5.5,3,1,-0.5,-2];
const stage12X = [-50,-49,-48,-47,-46,-45,-44,-43,-42.5,-42,-41,-40.5,null,-38,-37,-36,-35,-34,-33,-32,-31,-30,-29,-28,-27,-26,-25,-24,-23,-22,-21,-20,-19,-18,-17,-16,-15,-14,-13,-12,-11,-10,-9,-8,-7,-6,-5,-4,-3,-2,-1,0,0.5,1,2,3,4,5,6,7,8,9,10,11,12,13,14,15,16,17,18,19,20,21,22,23,24,25,26,27,28,29,30,31,32,33,34,35,36,37,38,39,39.5,40,41,42,43,44,45,46,47,48,49,50];
const stage12Y = [-5,-5,-5,-4.5,-3,0,2,5,7.5,13,18.5,22,null,42.5,41,38.5,36,34.5,33,32,32,32.2,32.2,32.3,32,31,29.5,28,26,24.5,23,21,19.5,18.5,17,15.5,14,13,12,10.5,9.5,8.5,8,7,6.5,6,5,4.5,4.5,5,5,3,2,2.5,3.5,4.5,5,4.8,5,6.5,8,9.5,10,11.5,13.5,14.8,16,17,18.5,20,22,24,26,27.5,29,30,30.5,31,31.5,32,32,32,32.2,32.5,33,34,35.5,37,39,41,43,44.5,44.5,43.5,42.5,35,28.5,19,12.5,7.5,4,1.5,-1,-4];

// ---------- axis functions ----------
function xA(v){return 836 + v * 1117;}
function yA(v){return 1019 - v * 1324.3;}
function xD(v){return 795 + v * 10;}
function yD(v){return 2153 - v * 16.17;}

const NS = 'http://www.w3.org/2000/svg';
const chartA = document.getElementById('chartA');
const chartD = document.getElementById('chartD');

function make(tag, parent){
  const el = document.createElementNS(NS, tag);
  parent.appendChild(el);
  return el;
}
function seg(x1,y1,x2,y2,color,width,parent,name){
  const el = make('line', parent);
  el.setAttribute('x1', x1); el.setAttribute('y1', y1);
  el.setAttribute('x2', x2); el.setAttribute('y2', y2);
  el.setAttribute('stroke', color); el.setAttribute('stroke-width', width);
  
  
  return el;
}
function label(x,y,str,size,anchor,parent,name){
  const el = make('text', parent);
  el.setAttribute('x', x); el.setAttribute('y', y);
  el.setAttribute('font-size', size);
  el.setAttribute('text-anchor', anchor);
  el.textContent = str;
  
  
  return el;
}
function cross(cx,cy,h,color,width,op,parent,name){
  const el = make('path', parent);
  el.setAttribute('d', 'M'+(cx-h)+' '+(cy-h)+'L'+(cx+h)+' '+(cy+h)+'M'+(cx-h)+' '+(cy+h)+'L'+(cx+h)+' '+(cy-h));
  el.setAttribute('stroke', color); el.setAttribute('stroke-width', width);
  el.setAttribute('opacity', op); el.setAttribute('fill', 'none');
  
  
  return el;
}
function circle(cx,cy,r,stroke,width,fill,parent,name){
  const el = make('circle', parent);
  el.setAttribute('cx', cx); el.setAttribute('cy', cy); el.setAttribute('r', r);
  el.setAttribute('stroke', stroke); el.setAttribute('stroke-width', width);
  el.setAttribute('fill', fill);
  
  
  return el;
}
function square(cx,cy,h,stroke,width,fill,parent,name){
  const el = make('rect', parent);
  el.setAttribute('x', cx-h); el.setAttribute('y', cy-h);
  el.setAttribute('width', 2*h); el.setAttribute('height', 2*h);
  el.setAttribute('stroke', stroke); el.setAttribute('stroke-width', width);
  el.setAttribute('fill', fill);
  
  
  return el;
}
function triangle(cx,cy,h,stroke,width,fill,parent,name){
  const el = make('path', parent);
  el.setAttribute('d', 'M'+cx+' '+(cy-h)+'L'+(cx+h)+' '+(cy+h)+'L'+(cx-h)+' '+(cy+h)+'Z');
  el.setAttribute('stroke', stroke); el.setAttribute('stroke-width', width);
  el.setAttribute('fill', fill);
  
  
  return el;
}
function polyline(xs,ys,color,width,parent,name){
  const el = make('path', parent);
  let d = '', pen = false;
  xs.forEach(function(v,i){
    if (v === null){pen = false; return;}
    d += (pen ? 'L' : 'M') + xD(v) + ' ' + yD(ys[i]);
    pen = true;
  });
  el.setAttribute('d', d);
  el.setAttribute('fill', 'none');
  el.setAttribute('stroke', color); el.setAttribute('stroke-width', width);
  el.setAttribute('stroke-linejoin', 'round');
  
  
  return el;
}

// ---------- draw chart a ----------
const boxA = make('rect', chartA);
boxA.setAttribute('x', xA(-0.5)); boxA.setAttribute('y', yA(0.7));
boxA.setAttribute('width', xA(0.4)-xA(-0.5)); boxA.setAttribute('height', yA(0)-yA(0.7));
boxA.setAttribute('fill', 'none'); boxA.setAttribute('stroke', '#444'); boxA.setAttribute('stroke-width', 4);


seg(xA(0), yA(0.7), xA(0), yA(0), '#111', 6, chartA, 'y-axis-line-a');
seg(xA(-0.5), yA(0), xA(0.4), yA(0), '#222', 5, chartA, 'x-axis-line-a');
aYTicks.forEach(function(v,i){
  seg(xA(-0.5)-12, yA(v), xA(-0.5), yA(v), '#333', 3, chartA, 'y-tick-a');
  if (i < aYTicks.length-1) seg(xA(-0.5)-8, yA(v+0.05), xA(-0.5), yA(v+0.05), '#333', 3, chartA, 'y-minor-tick-a');
  label(226, yA(v)+18, aYTickLabels[i], 54, 'end', chartA, 'y-tick-label-a');
});
aXTicks.forEach(function(v,i){
  const off = v < 0 ? -10 : 0;
  label(xA(v)+off, 1110, aXTickLabels[i], 54, 'middle', chartA, 'x-tick-label-a');
});
graySparseX.forEach(function(v,i){ cross(xA(v), yA(graySparseY[i]), 15, '#8a8a8a', 3, .85, chartA, 'spif-direct-point'); });
grayDenseX.forEach(function(v,i){ cross(xA(v), yA(grayDenseY[i]), 13, '#858585', 10, 1, chartA, 'spif-direct-point'); });
squareX.forEach(function(v,i){ square(xA(v), yA(squareY[i]), 13, '#2e86b8', 4.5, 'rgba(190,220,240,.45)', chartA, 'spif-stage-1-point'); });
redHaloX.forEach(function(v,i){ cross(xA(v), yA(redHaloY[i]), 17, '#ff5050', 4.5, .4, chartA, 'spif-stage-1-2-point'); });
redDenseX.forEach(function(v,i){ cross(xA(v), yA(redDenseY[i]), 15, '#fa0000', 13, 1, chartA, 'spif-stage-1-2-point'); });
failureSparseX.forEach(function(v,i){ circle(xA(v), yA(failureSparseY[i]), 13, '#f52020', 4, 'rgba(255,190,170,.6)', chartA, 'streching-failure-point'); });
failureCoreX.forEach(function(v,i){ circle(xA(v), yA(failureCoreY[i]), 14, '#f52020', 5, '#fa3020', chartA, 'streching-failure-point'); });
stretchX.forEach(function(v,i){ circle(xA(v), yA(stretchY[i]), 14, '#2c86b8', 6, 'rgba(42,130,185,.7)', chartA, 'streching-25-point'); });
circle(xA(.23), yA(.232), 11, '#2c86b8', 4, '#cfe6f4', chartA, 'streching-25-last-point');
// legend markers
cross(291, 135, 15, '#8a8a8a', 3, .8, chartA, 'legend-marker-spif-direct');
square(291, 217, 13, '#2e86b8', 4, '#b9dcf2', chartA, 'legend-marker-spif-stage-1');
cross(291, 301, 15, '#ff9c9c', 4, .8, chartA, 'legend-marker-spif-stage-1-2');
circle(291, 381, 13, '#f52020', 4, '#ffb9a8', chartA, 'legend-marker-streching-failure');
circle(291, 464, 13, '#8fc2e2', 4, '#cfe3f1', chartA, 'legend-marker-streching-25');

// ---------- draw chart d ----------
const boxD = make('rect', chartD);
boxD.setAttribute('x', xD(-50)); boxD.setAttribute('y', yD(55));
boxD.setAttribute('width', xD(50)-xD(-50)); boxD.setAttribute('height', yD(-5)-yD(55));
boxD.setAttribute('fill', 'none'); boxD.setAttribute('stroke', '#333'); boxD.setAttribute('stroke-width', 4);


seg(xD(0), yD(55), xD(0), yD(-5), '#333', 3, chartD, 'center-line-d');
seg(xD(-50), yD(0), xD(50), yD(0), '#333', 3, chartD, 'zero-line-d');
dYTicks.forEach(function(v,i){
  seg(xD(-50)-18, yD(v), xD(-50), yD(v), '#333', 3, chartD, 'y-tick-d');
  if (i < dYTicks.length-1) seg(xD(-50)-10, yD(v+5), xD(-50), yD(v+5), '#333', 3, chartD, 'y-minor-tick-d');
  label(244, yD(v)+20, dYTickLabels[i], 60, 'end', chartD, 'y-tick-label-d');
});
dXTicks.forEach(function(v,i){
  seg(xD(v), yD(-5), xD(v), yD(-5)-14, '#333', 3, chartD, 'x-tick-d');
  if (i < dXTicks.length-1) seg(xD(v+10), yD(-5), xD(v+10), yD(-5)-10, '#333', 3, chartD, 'x-minor-tick-d');
  label(xD(v)-(v<0?8:0), 2324, dXTickLabels[i], 60, 'middle', chartD, 'x-tick-label-d');
});
polyline(stage1X, stage1Y, '#7fb5dc', 3, chartD, 'spif-stage-1-line');
stage1X.forEach(function(v,i){ triangle(xD(v), yD(stage1Y[i]), 8, '#8cbfe0', 3, 'rgba(255,255,255,.3)', chartD, 'spif-stage-1-marker'); });
polyline(sFailX, sFailY, '#f88', 2, chartD, 'stretching-failure-line');
sFailX.forEach(function(v,i){ circle(xD(v), yD(sFailY[i]), 9.5, '#f03c3c', 4, 'none', chartD, 'stretching-failure-marker'); });
sFailBX.forEach(function(v,i){ circle(xD(v), yD(sFailBY[i]), 9.5, '#f03c3c', 4, 'none', chartD, 'stretching-failure-marker'); });
polyline(s25X, s25Y, '#60a8d0', 2, chartD, 'stretching-25-line');
s25X.forEach(function(v,i){ circle(xD(v), yD(s25Y[i]), 11, '#1f84b6', 5, 'none', chartD, 'stretching-25-marker'); });
s25BX.forEach(function(v,i){ circle(xD(v), yD(s25BY[i]), 11, '#1f84b6', 5, 'none', chartD, 'stretching-25-marker'); });
polyline(stage12X, stage12Y, '#ff7878', 7, chartD, 'spif-stage-1-2-line');
stage12X.forEach(function(v,i){ if (v !== null && i % 2 === 0) triangle(xD(v), yD(stage12Y[i]), 8, '#ff6a6a', 2.5, '#ffb0b0', chartD, 'spif-stage-1-2-marker'); });
polyline(directX, directY, '#333', 4, chartD, 'spif-direct-line');
directX.forEach(function(v,i){ if (v !== null) square(xD(v), yD(directY[i]), 9.5, '#2a2a2a', 3.5, 'rgba(255,255,255,.65)', chartD, 'spif-direct-marker'); });
// legend rows
seg(1362, 1817, 1472, 1817, '#7fb5dc', 4, chartD, 'legend-line-stretching-25');
circle(1409, 1817, 14, '#1f84b6', 5, '#fff', chartD, 'legend-marker-stretching-25');
seg(1362, 1885, 1472, 1885, '#ff9a9a', 4, chartD, 'legend-line-stretching-failure');
circle(1404, 1885, 10, '#f03c3c', 4, '#fff', chartD, 'legend-marker-stretching-failure');
seg(1362, 1959, 1472, 1959, '#333', 5, chartD, 'legend-line-spif-direct');
square(1405, 1959, 9, '#222', 3, '#fff', chartD, 'legend-marker-spif-direct-d');
seg(1362, 2034, 1472, 2034, '#8cbfe0', 5, chartD, 'legend-line-spif-stage-1');
triangle(1409, 2034, 8, '#8cbfe0', 3, '#fff', chartD, 'legend-marker-spif-stage-1-d');
seg(1362, 2107, 1472, 2107, '#ff7878', 8, chartD, 'legend-line-spif-stage-1-2');
triangle(1409, 2107, 8, '#ff6a6a', 3, '#ffb0b0', chartD, 'legend-marker-spif-stage-1-2-d');
</script>
</body>
</html>
